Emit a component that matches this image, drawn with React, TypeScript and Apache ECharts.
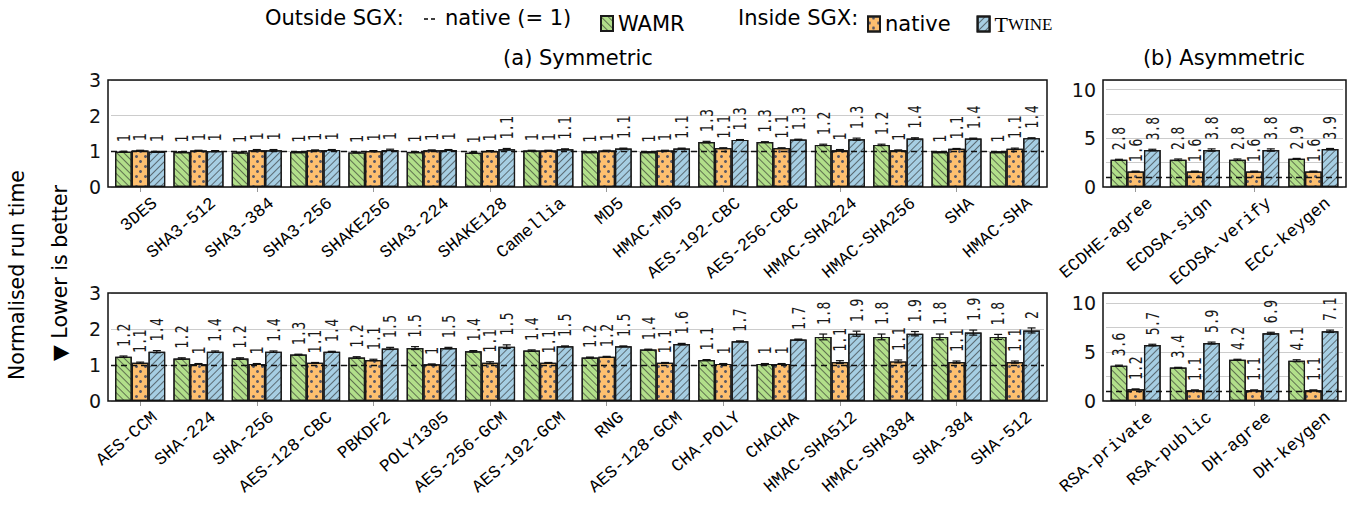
import React, { useEffect, useRef } from "react";
import * as echarts from "echarts";

// ---------- data ----------
const symTopCats = ["3DES", "SHA3-512", "SHA3-384", "SHA3-256", "SHAKE256", "SHA3-224", "SHAKE128", "Camellia", "MD5", "HMAC-MD5", "AES-192-CBC", "AES-256-CBC", "HMAC-SHA224", "HMAC-SHA256", "SHA", "HMAC-SHA"];
const symTopWamr = [0.99, 0.98, 0.97, 0.98, 0.97, 0.98, 0.96, 1.02, 0.98, 0.98, 1.26, 1.26, 1.18, 1.18, 0.98, 0.98];
const symTopNative = [1.02, 1.02, 1.03, 1.03, 1.01, 1.03, 1.01, 1.02, 1.02, 1.02, 1.09, 1.09, 1.03, 1.03, 1.07, 1.07];
const symTopTwine = [0.99, 1.01, 1.03, 1.04, 1.04, 1.04, 1.06, 1.06, 1.08, 1.08, 1.32, 1.33, 1.34, 1.36, 1.36, 1.37];
const symTopWamrErr = [0.01, 0.01, 0.01, 0.01, 0.01, 0.01, 0.01, 0.01, 0.01, 0.01, 0.02, 0.01, 0.02, 0.02, 0.01, 0.01];
const symTopNativeErr = [0.01, 0.01, 0.02, 0.01, 0.01, 0.01, 0.01, 0.01, 0.01, 0.01, 0.01, 0.01, 0.02, 0.01, 0.01, 0.02];
const symTopTwineErr = [0.01, 0.01, 0.02, 0.01, 0.02, 0.01, 0.02, 0.01, 0.01, 0.01, 0.01, 0.01, 0.03, 0.02, 0.01, 0.01];

const asymTopCats = ["ECDHE-agree", "ECDSA-sign", "ECDSA-verify", "ECC-keygen"];
const asymTopWamr = [2.8, 2.8, 2.8, 2.9];
const asymTopNative = [1.6, 1.6, 1.6, 1.6];
const asymTopTwine = [3.8, 3.8, 3.8, 3.9];
const asymTopWamrErr = [0.05, 0.08, 0.08, 0.04];
const asymTopNativeErr = [0.03, 0.03, 0.03, 0.03];
const asymTopTwineErr = [0.08, 0.12, 0.12, 0.06];

const symBotCats = ["AES-CCM", "SHA-224", "SHA-256", "AES-128-CBC", "PBKDF2", "POLY1305", "AES-256-GCM", "AES-192-GCM", "RNG", "AES-128-GCM", "CHA-POLY", "CHACHA", "HMAC-SHA512", "HMAC-SHA384", "SHA-384", "SHA-512"];
const symBotWamr = [1.23, 1.18, 1.18, 1.29, 1.21, 1.47, 1.38, 1.4, 1.21, 1.43, 1.14, 1.03, 1.78, 1.78, 1.78, 1.78];
const symBotNative = [1.06, 1.03, 1.03, 1.06, 1.14, 1.02, 1.06, 1.06, 1.23, 1.06, 1.03, 1.03, 1.08, 1.1, 1.08, 1.08];
const symBotTwine = [1.37, 1.37, 1.37, 1.37, 1.46, 1.47, 1.51, 1.52, 1.52, 1.58, 1.66, 1.71, 1.87, 1.87, 1.9, 1.96];
const symBotWamrErr = [0.02, 0.02, 0.02, 0.01, 0.02, 0.04, 0.02, 0.02, 0.01, 0.01, 0.01, 0.01, 0.08, 0.08, 0.08, 0.07];
const symBotNativeErr = [0.02, 0.01, 0.01, 0.01, 0.02, 0.01, 0.03, 0.01, 0.01, 0.01, 0.01, 0.01, 0.04, 0.04, 0.03, 0.03];
const symBotTwineErr = [0.03, 0.02, 0.02, 0.01, 0.03, 0.02, 0.05, 0.01, 0.01, 0.02, 0.01, 0.01, 0.07, 0.06, 0.07, 0.07];

const asymBotCats = ["RSA-private", "RSA-public", "DH-agree", "DH-keygen"];
const asymBotWamr = [3.6, 3.4, 4.2, 4.1];
const asymBotNative = [1.2, 1.1, 1.1, 1.1];
const asymBotTwine = [5.7, 5.9, 6.9, 7.1];
const asymBotWamrErr = [0.05, 0.03, 0.05, 0.1];
const asymBotNativeErr = [0.03, 0.03, 0.03, 0.03];
const asymBotTwineErr = [0.08, 0.1, 0.1, 0.12];

const symTicks = { max: 3, interval: 1 };
const asymTicks = { max: 11, interval: 2.5, labelEvery: 5 };

// ---------- style ----------
const C_WAMR = "#b2df8a";
const C_NATIVE = "#fdbf6f";
const C_TWINE = "#a6cee3";
const BW = 16.7;
const PAD = 3;
const SANS = '"DejaVu Sans", sans-serif';
const MONO = '"Liberation Mono", monospace';
const VMONO = '"DejaVu Sans Mono", monospace';
const CAT_ROT = (40 * Math.PI) / 180;

const DECAL_WAMR = { symbol: "rect", symbolSize: 1, dashArrayX: [1, 0], dashArrayY: [1, 3.6], rotation: Math.PI / 4, color: "rgba(40,40,40,0.6)" };
const DECAL_TWINE = { symbol: "rect", symbolSize: 1, dashArrayX: [1, 0], dashArrayY: [1, 3.6], rotation: -Math.PI / 4, color: "rgba(40,40,40,0.6)" };
const DECAL_NATIVE = { symbol: "circle", symbolSize: 1, dashArrayX: [[2.6, 5.4], [0, 4, 2.6, 1.4]], dashArrayY: [2.6, 2.0], rotation: 0, color: "rgba(60,70,100,0.85)" };

function fmt(v: number) {
  return String(Math.round(v * 10) / 10);
}

const panels = [
  { cats: symTopCats, w: symTopWamr, n: symTopNative, t: symTopTwine, ew: symTopWamrErr, en: symTopNativeErr, et: symTopTwineErr, ticks: symTicks, grid: { left: 111, top: 80, width: 933, height: 107 } },
  { cats: asymTopCats, w: asymTopWamr, n: asymTopNative, t: asymTopTwine, ew: asymTopWamrErr, en: asymTopNativeErr, et: asymTopTwineErr, ticks: asymTicks, grid: { left: 1106, top: 80, width: 237, height: 107 } },
  { cats: symBotCats, w: symBotWamr, n: symBotNative, t: symBotTwine, ew: symBotWamrErr, en: symBotNativeErr, et: symBotTwineErr, ticks: symTicks, grid: { left: 111, top: 293, width: 933, height: 108 } },
  { cats: asymBotCats, w: asymBotWamr, n: asymBotNative, t: asymBotTwine, ew: asymBotWamrErr, en: asymBotNativeErr, et: asymBotTwineErr, ticks: asymTicks, grid: { left: 1106, top: 293, width: 237, height: 108 } },
];

function buildOption() {
  const grid: any[] = [];
  const xAxis: any[] = [];
  const yAxis: any[] = [];
  const series: any[] = [];
  const graphic: any[] = [];

  panels.forEach((p, i) => {
    grid.push({ ...p.grid, show: false, containLabel: false });
    xAxis.push({
      type: "category",
      gridIndex: i,
      data: p.cats,
      axisLine: { show: false },
      axisTick: { show: true, alignWithLabel: true, length: 5, lineStyle: { color: "#999" } },
      axisLabel: { show: false },
      splitLine: { show: false },
    });
    const tk: any = p.ticks;
    yAxis.push({
      type: "value",
      gridIndex: i,
      min: 0,
      max: tk.max,
      interval: tk.interval,
      axisLine: { show: false },
      axisTick: { show: false },
      splitLine: { show: true, lineStyle: { color: "#cccccc", width: 1 } },
      axisLabel: {
        fontFamily: SANS,
        fontSize: 19,
        color: "#111",
        margin: 10,
        formatter: (v: number) => (tk.labelEvery ? (v % tk.labelEvery === 0 ? String(v) : "") : String(v)),
      },
    });
    const common = { type: "bar", xAxisIndex: i, yAxisIndex: i, barWidth: BW, barGap: "0%", z: 2 };
    series.push({ ...common, name: "WAMR", data: p.w, itemStyle: { color: C_WAMR, borderColor: "#1a1a1a", borderWidth: 1.2, decal: DECAL_WAMR } });
    series.push({ ...common, name: "native", data: p.n, itemStyle: { color: C_NATIVE, borderColor: "#1a1a1a", borderWidth: 1.2, decal: DECAL_NATIVE } });
    series.push({
      ...common,
      name: "Twine",
      data: p.t,
      itemStyle: { color: C_TWINE, borderColor: "#1a1a1a", borderWidth: 1.2, decal: DECAL_TWINE },
      markLine: {
        silent: true,
        symbol: ["none", "none"],
        label: { show: false },
        lineStyle: { type: [6, 4], color: "#111", width: 1.3 },
        data: [{ yAxis: 1 }],
        z: 5,
      },
    });
    const rows: number[][] = [];
    p.cats.forEach((_, c) => {
      rows.push([c, 0, p.w[c], p.ew[c]]);
      rows.push([c, 1, p.n[c], p.en[c]]);
      rows.push([c, 2, p.t[c], p.et[c]]);
    });
    const cats = p.cats;
    series.push({
      type: "custom",
      xAxisIndex: i,
      yAxisIndex: i,
      data: rows,
      z: 6,
      silent: true,
      clip: false,
      encode: { x: 0, y: 2 },
      renderItem: (params: any, api: any) => {
        const c = api.value(0);
        const s = api.value(1);
        const v = api.value(2);
        const e = api.value(3);
        const base = api.coord([c, v]);
        const x = base[0] + (s - 1) * BW;
        const yTop = api.coord([c, v + e])[1];
        const yBot = api.coord([c, v - e])[1];
        const cap = 4;
        const st = { stroke: "#111", lineWidth: 1.2 };
        const children: any[] = [
          { type: "line", shape: { x1: x, y1: yTop, x2: x, y2: yBot }, style: st },
          { type: "line", shape: { x1: x - cap, y1: yTop, x2: x + cap, y2: yTop }, style: st },
          { type: "line", shape: { x1: x - cap, y1: yBot, x2: x + cap, y2: yBot }, style: st },
          {
            type: "text",
            x: x,
            y: yTop - 9,
            rotation: Math.PI / 2,
            scaleX: 0.72,
            style: { text: fmt(v), fontFamily: VMONO, fontSize: 18, fill: "#1a1a1a", align: "left", verticalAlign: "middle" },
          },
        ];
        if (s === 1) {
          const axisPt = api.coord([c, 0]);
          children.push({
            type: "text",
            x: axisPt[0] + 9,
            y: axisPt[1] + 7,
            rotation: CAT_ROT,
            style: { text: cats[c], fontFamily: MONO, fontSize: 17.5, fill: "#000", align: "right", verticalAlign: "top" },
          });
        }
        return { type: "group", children };
      },
    });
    // frame
    graphic.push({
      type: "rect",
      shape: { x: p.grid.left - PAD, y: p.grid.top, width: p.grid.width + 2 * PAD, height: p.grid.height },
      style: { fill: "none", stroke: "#111", lineWidth: 1.5 },
      z: 20,
      silent: true,
    });
  });

  const legendText = { fontSize: 21, fontFamily: SANS, color: "#000" };
  graphic.push(
    { type: "text", x: 265, y: 18, style: { text: "Outside SGX:", ...legendText, fill: "#000", verticalAlign: "middle", align: "left" } },
    { type: "line", shape: { x1: 424, y1: 19, x2: 437, y2: 19 }, style: { stroke: "#000", lineWidth: 1.3, lineDash: [4, 3] } },
    { type: "text", x: 445, y: 18, style: { text: "native (= 1)", ...legendText, fill: "#000", verticalAlign: "middle", align: "left" } },
    { type: "text", x: 738, y: 18, style: { text: "Inside SGX:", ...legendText, fill: "#000", verticalAlign: "middle", align: "left" } },
    { type: "text", x: 578, y: 58, style: { text: "(a) Symmetric", ...legendText, fill: "#000", verticalAlign: "middle", align: "center" } },
    { type: "text", x: 1224, y: 58, style: { text: "(b) Asymmetric", ...legendText, fill: "#000", verticalAlign: "middle", align: "center" } },
    { type: "text", x: 17, y: 275, rotation: Math.PI / 2, style: { text: "Normalised run time", fontSize: 20.5, fontFamily: SANS, fill: "#000", verticalAlign: "middle", align: "center" } },
    { type: "text", x: 60, y: 273, rotation: Math.PI / 2, style: { text: "▼ Lower is better", fontSize: 20.5, fontFamily: SANS, fill: "#000", verticalAlign: "middle", align: "center" } }
  );

  const legendCommon = {
    top: 8,
    itemWidth: 12,
    itemHeight: 15,
    icon: "rect",
    selectedMode: false,
    textStyle: {
      ...legendText,
      rich: {
        t: { fontFamily: '"Liberation Serif", serif', fontSize: 22, color: "#000" },
        w: { fontFamily: '"Liberation Serif", serif', fontSize: 17, color: "#000" },
      },
    },
    formatter: (name: string) => (name === "Twine" ? "{t|T}{w|WINE}" : name),
  };

  return {
    animation: false,
    backgroundColor: "#fff",
    grid,
    xAxis,
    yAxis,
    series,
    graphic,
    legend: [
      { ...legendCommon, left: 595, data: ["WAMR"] },
      { ...legendCommon, left: 862, itemGap: 26, data: ["native", "Twine"] },
    ],
  };
}

export default function App() {
  const ref = useRef<HTMLDivElement>(null);
  useEffect(() => {
    document.body.style.margin = "0";
    const chart = echarts.init(ref.current!, null, { renderer: "svg" });
    chart.setOption(buildOption() as any);
    return () => chart.dispose();
  }, []);
  return <div ref={ref} style={{ position: "fixed", left: 0, top: 0, width: 1351, height: 506, background: "#fff" }} />;
}
